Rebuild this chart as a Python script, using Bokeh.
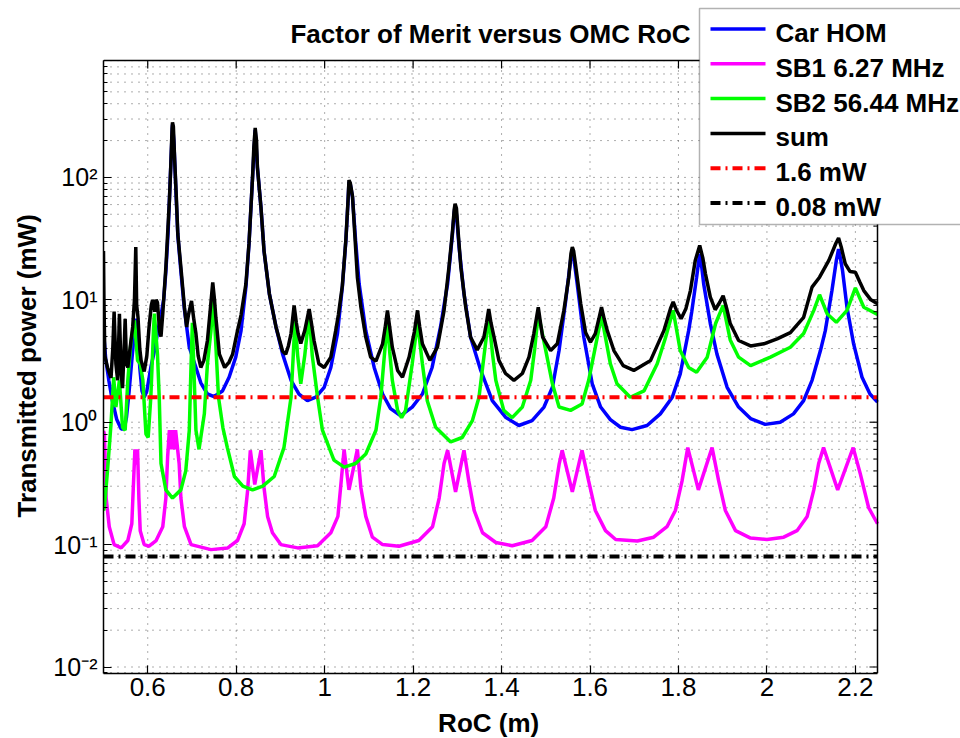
import math
from bokeh.plotting import figure
from bokeh.models import (Range1d, FixedTicker, Label, PolyAnnotation, CustomJSTickFormatter)
from bokeh.embed import file_html
from bokeh.resources import INLINE

TITLE = "Factor of Merit versus OMC RoC"
X_LABEL = "RoC (m)"
Y_LABEL = "Transmitted power (mW)"
LEGEND_LABELS = ["Car HOM", "SB1 6.27 MHz", "SB2 56.44 MHz", "sum", "1.6 mW", "0.08 mW"]
LEGEND_COLORS = ["#0000ff", "#ff00ff", "#00ff00", "black", "#ff0000", "black"]
LEGEND_DASHED = [False, False, False, False, True, True]

X_TICKS = [0.6, 0.8, 1.0, 1.2, 1.4, 1.6, 1.8, 2.0, 2.2]
X_TICK_LABELS = ["0.6", "0.8", "1", "1.2", "1.4", "1.6", "1.8", "2", "2.2"]
Y_TICKS = [0.01, 0.1, 1, 10, 100]
Y_TICK_LABELS = ["10\u207b\u00b2", "10\u207b\u00b9", "10\u2070", "10\u00b9", "10\u00b2"]

X_RANGE = (0.5, 2.25)
Y_RANGE = (0.00885, 902)

THRESH_HIGH = 1.6
THRESH_LOW = 0.08
THRESH_X = [0.5, 2.25]

# (RoC, power mW)
CAR_HOM = [
    (0.500, 5.5), (0.505, 3.3), (0.512, 2.2), (0.520, 1.5), (0.530, 1.05), (0.540, 0.88),
    (0.547, 0.88), (0.552, 1.1), (0.558, 1.8), (0.564, 3.2), (0.570, 5.5), (0.574, 7),
    (0.578, 5), (0.582, 2.8), (0.587, 1.8), (0.592, 1.6), (0.598, 1.8), (0.607, 2.8),
    (0.615, 3.8), (0.622, 5.3), (0.630, 7.5), (0.636, 10), (0.641, 17), (0.646, 35),
    (0.650, 80), (0.653, 150), (0.656, 270), (0.659, 200), (0.662, 110), (0.665, 60),
    (0.668, 34), (0.675, 17), (0.683, 8.3), (0.694, 4.1), (0.709, 2.8), (0.720, 2.1),
    (0.735, 1.7), (0.750, 1.62), (0.769, 1.8), (0.784, 2.33), (0.799, 3.4), (0.811, 5.6),
    (0.822, 12.7), (0.829, 28.6), (0.837, 100), (0.843, 245), (0.848, 121), (0.856, 57),
    (0.863, 25), (0.875, 11.2), (0.890, 6), (0.905, 3.6), (0.924, 2.2), (0.942, 1.7),
    (0.961, 1.5), (0.980, 1.6), (0.999, 1.93), (1.014, 2.8), (1.029, 5.3), (1.040, 12.7),
    (1.048, 30.4), (1.053, 65), (1.055, 92), (1.058, 88), (1.063, 69), (1.070, 30.4),
    (1.078, 13.5), (1.093, 5.6), (1.112, 2.8), (1.131, 1.7), (1.149, 1.29), (1.172, 1.13),
    (1.198, 1.33), (1.221, 1.7), (1.243, 2.8), (1.262, 6), (1.278, 13.5), (1.289, 34.5),
    (1.293, 52), (1.295, 58), (1.298, 50), (1.304, 26.8), (1.315, 11.2), (1.330, 4.95),
    (1.353, 2.65), (1.379, 1.5), (1.409, 1.1), (1.439, 0.94), (1.469, 1.03), (1.496, 1.33),
    (1.515, 1.93), (1.530, 3.85), (1.545, 9.8), (1.556, 21), (1.560, 25), (1.564, 21),
    (1.571, 13.5), (1.586, 4.95), (1.605, 2.06), (1.624, 1.33), (1.646, 1.05), (1.669, 0.91),
    (1.695, 0.87), (1.729, 0.94), (1.759, 1.17), (1.786, 1.6), (1.804, 2.48), (1.823, 5.6),
    (1.830, 8), (1.841, 15.3), (1.848, 23.8), (1.853, 18), (1.857, 13.5), (1.872, 6.4),
    (1.887, 3.6), (1.910, 1.93), (1.936, 1.33), (1.963, 1.07), (1.996, 0.96), (2.030, 1.0),
    (2.060, 1.17), (2.083, 1.5), (2.102, 2.2), (2.121, 3.85), (2.132, 5.6), (2.147, 11.9),
    (2.157, 21), (2.162, 26), (2.167, 21), (2.171, 17.3), (2.181, 8.7), (2.196, 4.37),
    (2.215, 2.33), (2.233, 1.7), (2.250, 1.46),
]

SB1 = [
    (0.500, 0.85), (0.502, 0.8), (0.506, 0.24), (0.513, 0.14), (0.524, 0.10), (0.540, 0.094),
    (0.555, 0.108), (0.564, 0.148), (0.568, 0.33), (0.571, 0.6), (0.574, 0.45), (0.577, 0.6),
    (0.580, 0.24), (0.583, 0.13), (0.592, 0.10), (0.603, 0.097), (0.619, 0.108), (0.634, 0.14),
    (0.641, 0.24), (0.645, 0.52), (0.649, 0.86), (0.654, 0.6), (0.657, 0.86), (0.660, 0.6),
    (0.663, 0.86), (0.671, 0.46), (0.675, 0.24), (0.683, 0.14), (0.698, 0.10), (0.743, 0.091),
    (0.781, 0.094), (0.803, 0.108), (0.818, 0.148), (0.826, 0.28), (0.832, 0.59), (0.842, 0.31),
    (0.856, 0.59), (0.863, 0.29), (0.871, 0.17), (0.882, 0.125), (0.901, 0.10), (0.939, 0.094),
    (0.984, 0.098), (1.014, 0.125), (1.030, 0.17), (1.036, 0.29), (1.044, 0.6), (1.055, 0.28),
    (1.074, 0.6), (1.082, 0.29), (1.093, 0.17), (1.108, 0.115), (1.131, 0.10), (1.168, 0.097),
    (1.213, 0.108), (1.244, 0.14), (1.259, 0.24), (1.270, 0.46), (1.278, 0.59), (1.296, 0.27),
    (1.315, 0.59), (1.326, 0.33), (1.338, 0.19), (1.357, 0.125), (1.387, 0.104), (1.424, 0.098),
    (1.469, 0.108), (1.500, 0.14), (1.518, 0.24), (1.530, 0.45), (1.537, 0.59), (1.560, 0.27),
    (1.582, 0.59), (1.597, 0.33), (1.612, 0.19), (1.635, 0.13), (1.658, 0.11), (1.707, 0.107),
    (1.744, 0.115), (1.774, 0.14), (1.793, 0.19), (1.808, 0.33), (1.821, 0.62), (1.845, 0.28),
    (1.876, 0.62), (1.891, 0.33), (1.906, 0.19), (1.929, 0.13), (1.963, 0.113), (2.000, 0.11),
    (2.038, 0.115), (2.068, 0.13), (2.091, 0.17), (2.106, 0.28), (2.117, 0.46), (2.128, 0.62),
    (2.160, 0.28), (2.195, 0.62), (2.211, 0.38), (2.230, 0.2), (2.250, 0.148),
]

SB2 = [
    (0.500, 0.19), (0.502, 0.2), (0.509, 0.4), (0.517, 0.97), (0.523, 2.33), (0.528, 1.33),
    (0.536, 2.2), (0.543, 0.91), (0.549, 0.86), (0.555, 2.2), (0.562, 4.5), (0.566, 5.6),
    (0.570, 6.8), (0.577, 3.2), (0.583, 3.0), (0.589, 2.2), (0.596, 0.8), (0.601, 0.75),
    (0.607, 1.6), (0.613, 5.6), (0.615, 7.7), (0.622, 3.6), (0.626, 1.6), (0.630, 0.46),
    (0.641, 0.28), (0.656, 0.24), (0.675, 0.28), (0.686, 0.4), (0.694, 0.86), (0.698, 3),
    (0.701, 6.5), (0.704, 3), (0.709, 0.86), (0.716, 0.6), (0.728, 1.17), (0.735, 3),
    (0.743, 5.6), (0.748, 11), (0.753, 5), (0.760, 1.6), (0.770, 0.9), (0.780, 0.62),
    (0.796, 0.36), (0.815, 0.3), (0.837, 0.28), (0.860, 0.3), (0.886, 0.36), (0.908, 0.62),
    (0.924, 1.6), (0.929, 3.5), (0.933, 6.8), (0.939, 3.5), (0.946, 2.06), (0.955, 3.5),
    (0.965, 7.7), (0.972, 3.5), (0.984, 1.6), (0.995, 0.86), (1.021, 0.49), (1.044, 0.43),
    (1.070, 0.46), (1.093, 0.55), (1.116, 0.86), (1.127, 1.6), (1.135, 3.5), (1.142, 6.8),
    (1.147, 3.8), (1.153, 2.2), (1.165, 1.25), (1.174, 1.09), (1.183, 1.25), (1.198, 3),
    (1.210, 6.6), (1.221, 3), (1.232, 1.5), (1.251, 0.91), (1.285, 0.69), (1.311, 0.75),
    (1.334, 1.03), (1.349, 1.6), (1.360, 3.4), (1.371, 7.2), (1.380, 3.5), (1.387, 2.2),
    (1.405, 1.25), (1.424, 1.09), (1.447, 1.33), (1.466, 2.2), (1.475, 4), (1.483, 7.7),
    (1.500, 3.85), (1.515, 2.06), (1.530, 1.33), (1.556, 1.25), (1.582, 1.41), (1.597, 2.2),
    (1.612, 4.1), (1.626, 7.4), (1.646, 3), (1.661, 2.06), (1.691, 1.6), (1.722, 1.8),
    (1.752, 3), (1.771, 4.95), (1.788, 8.2), (1.804, 3.85), (1.823, 2.8), (1.841, 2.56),
    (1.865, 3.4), (1.884, 6.4), (1.901, 9), (1.917, 4.7), (1.936, 3.4), (1.963, 2.9),
    (2.008, 3.4), (2.053, 4.1), (2.083, 5.3), (2.106, 8.2), (2.119, 11), (2.136, 7.7),
    (2.157, 6.55), (2.181, 8.2), (2.200, 12.5), (2.219, 8.7), (2.250, 7.6),
]

SUM = [
    (0.500, 25), (0.501, 10), (0.503, 3.5), (0.509, 2.8), (0.517, 2.3), (0.521, 4),
    (0.524, 8), (0.528, 3), (0.532, 2.2), (0.536, 7.7), (0.540, 2.5), (0.543, 1.9),
    (0.546, 3.5), (0.549, 7), (0.552, 3), (0.555, 2.8), (0.560, 4), (0.566, 6),
    (0.570, 10), (0.573, 27), (0.575, 9), (0.578, 7.2), (0.582, 4), (0.585, 3.2),
    (0.592, 2.6), (0.598, 3.5), (0.603, 6), (0.608, 9), (0.611, 10), (0.616, 8),
    (0.619, 10), (0.622, 9.5), (0.627, 5.5), (0.630, 5), (0.634, 7.7), (0.641, 18.4),
    (0.649, 65), (0.652, 121), (0.655, 250), (0.656, 282), (0.658, 260), (0.661, 137),
    (0.665, 65), (0.668, 34.5), (0.675, 18.4), (0.683, 8.7), (0.688, 6), (0.692, 7.5),
    (0.699, 9.8), (0.704, 7), (0.709, 5.3), (0.714, 3.5), (0.720, 2.8), (0.727, 3.2),
    (0.735, 4.65), (0.741, 8), (0.747, 13.9), (0.751, 10), (0.754, 7.2), (0.762, 3.6),
    (0.774, 2.8), (0.784, 3.1), (0.792, 3.6), (0.803, 5.6), (0.811, 7.5), (0.822, 13.5),
    (0.829, 29), (0.837, 100), (0.840, 180), (0.843, 254), (0.846, 200), (0.848, 121),
    (0.856, 57), (0.863, 25), (0.875, 11.2), (0.890, 6), (0.905, 3.8), (0.912, 3.6),
    (0.918, 4.2), (0.924, 5.3), (0.931, 9), (0.936, 6.5), (0.940, 5.3), (0.946, 4.4),
    (0.955, 5.6), (0.965, 8.4), (0.970, 6.5), (0.976, 4.65), (0.987, 3.0), (0.999, 2.8),
    (1.014, 3.4), (1.025, 5.6), (1.031, 7.5), (1.040, 13), (1.048, 31), (1.053, 66),
    (1.055, 95), (1.058, 90), (1.063, 70), (1.068, 35), (1.074, 15.3), (1.082, 8.7),
    (1.093, 4.95), (1.104, 3.4), (1.116, 3.15), (1.131, 4.37), (1.137, 6), (1.142, 8.2),
    (1.147, 6), (1.153, 4.1), (1.165, 2.65), (1.176, 2.33), (1.191, 3.4), (1.203, 5.5),
    (1.210, 8.2), (1.215, 6), (1.221, 4.37), (1.238, 3.2), (1.255, 4.1), (1.270, 8.2),
    (1.281, 18.4), (1.289, 36), (1.293, 55), (1.295, 61), (1.298, 56), (1.302, 35),
    (1.308, 18.4), (1.319, 8.7), (1.330, 4.95), (1.345, 3.9), (1.360, 4.95), (1.366, 6.5),
    (1.371, 8.4), (1.376, 6.5), (1.383, 4.95), (1.394, 3.2), (1.409, 2.5), (1.428, 2.2),
    (1.447, 2.5), (1.462, 3.4), (1.473, 5.3), (1.483, 8.7), (1.488, 6.5), (1.493, 4.95),
    (1.511, 3.85), (1.526, 4.37), (1.541, 8.2), (1.552, 15.3), (1.557, 24), (1.560, 27),
    (1.563, 25), (1.567, 19.7), (1.579, 9.3), (1.590, 5.4), (1.601, 4.5), (1.612, 5.3),
    (1.620, 7), (1.626, 8.7), (1.632, 7), (1.639, 5.6), (1.654, 3.85), (1.675, 2.9),
    (1.699, 2.65), (1.737, 3.2), (1.767, 5.6), (1.782, 8.5), (1.788, 9.6), (1.795, 8.3),
    (1.806, 7), (1.817, 8.5), (1.827, 11.9), (1.838, 21), (1.848, 27.8), (1.855, 22),
    (1.861, 16.3), (1.872, 10.5), (1.883, 8.3), (1.893, 9.5), (1.901, 10.8), (1.909, 8.5),
    (1.917, 6.4), (1.936, 4.65), (1.963, 4.2), (1.993, 4.37), (2.023, 4.8), (2.053, 5.4),
    (2.083, 7.2), (2.102, 12.7), (2.119, 15.3), (2.140, 21), (2.156, 29), (2.162, 32),
    (2.168, 27), (2.177, 19.7), (2.188, 17), (2.200, 16.8), (2.210, 14), (2.219, 11.9),
    (2.235, 10), (2.250, 9.3),
]


def unzip(pts):
    return [a for a, _ in pts], [b for _, b in pts]


FONT = "Liberation Sans"
NBSP = "\u00a0"

# ---- geometry (canvas pixels) ----
FIG_W, FIG_H = 960, 738
B_LEFT, B_BOTTOM = 103, 65
PLOT_TOP = 60                 # top edge of the axes box
PLOT_RIGHT = 877              # right edge of the axes box
FRAME_W = FIG_W - B_LEFT      # frame reaches the canvas top/right so the legend can overhang the box
FRAME_H = FIG_H - B_BOTTOM
PLOT_W = PLOT_RIGHT - B_LEFT
PLOT_H = FRAME_H - PLOT_TOP

x_span = X_RANGE[1] - X_RANGE[0]
frame_x_end = X_RANGE[1] + (FRAME_W - PLOT_W) * x_span / PLOT_W
dec = math.log10(Y_RANGE[1] / Y_RANGE[0])
frame_y_top = Y_RANGE[1] * 10 ** ((FRAME_H - PLOT_H) * dec / PLOT_H)

p = figure(frame_width=FRAME_W, frame_height=FRAME_H,
           x_range=Range1d(X_RANGE[0], frame_x_end), y_range=Range1d(Y_RANGE[0], frame_y_top),
           y_axis_type="log", output_backend="svg", toolbar_location=None,
           min_border_left=B_LEFT, min_border_right=0,
           min_border_top=0, min_border_bottom=B_BOTTOM)
p.outline_line_color = None
p.background_fill_color = "white"
p.border_fill_color = "white"
p.xgrid.visible = False
p.ygrid.visible = False

Y_MINOR = [m * 10.0 ** e for e in range(-3, 3) for m in range(2, 10)
           if Y_RANGE[0] < m * 10.0 ** e < Y_RANGE[1]]

xt = FixedTicker(ticks=X_TICKS, minor_ticks=[])
yt = FixedTicker(ticks=Y_TICKS, minor_ticks=Y_MINOR)

xfmt = CustomJSTickFormatter(args=dict(tv=X_TICKS, tl=X_TICK_LABELS), code="""
let b = 0, d = Infinity;
for (let i = 0; i < tv.length; i++) { const e = Math.abs(tv[i] - tick); if (e < d) { d = e; b = i; } }
return tl[b];
""")
yfmt = CustomJSTickFormatter(args=dict(tv=Y_TICKS, tl=Y_TICK_LABELS), code="""
let b = 0, d = Infinity;
for (let i = 0; i < tv.length; i++) { const e = Math.abs(Math.log(tv[i]) - Math.log(tick)); if (e < d) { d = e; b = i; } }
return tl[b];
""")

bx = p.below[0]
ly = p.left[0]
bx.ticker = xt
ly.ticker = yt
bx.formatter = xfmt
ly.formatter = yfmt
bx.bounds = X_RANGE
ly.bounds = Y_RANGE

for ax in (bx, ly):
    ax.axis_line_color = "black"
    ax.axis_line_width = 1.5
    ax.major_tick_in = 8
    ax.major_tick_out = 0
    ax.minor_tick_in = 4
    ax.minor_tick_out = 0
    ax.major_tick_line_color = "black"
    ax.major_tick_line_width = 1.2
    ax.minor_tick_line_color = "black"
    ax.major_label_text_font = FONT
    ax.major_label_text_color = "black"
    ax.axis_label_text_font = FONT
    ax.axis_label_text_font_style = "bold"
    ax.axis_label_text_color = "black"
    ax.axis_label_text_font_size = "26px"

# the axis labels are centred on the whole frame; trailing no-break spaces move them
# back over the centre of the axes box
bx.axis_label = X_LABEL + NBSP * 12
ly.axis_label = Y_LABEL + NBSP * 8
bx.major_label_text_font_size = "26px"
bx.major_label_standoff = 4
bx.axis_label_standoff = 9
ly.major_label_text_font_size = "25px"
ly.major_label_standoff = 6
ly.axis_label_standoff = 8

# ---- dotted grid inside the axes box ----
GRID = dict(line_color="#333333", line_alpha=0.8, line_dash="1 6", line_width=1)
p.multi_line(xs=[[t, t] for t in X_TICKS], ys=[list(Y_RANGE) for _ in X_TICKS], **GRID)
ygrid_vals = sorted(Y_TICKS + Y_MINOR)
p.multi_line(xs=[list(X_RANGE) for _ in ygrid_vals], ys=[[v, v] for v in ygrid_vals], **GRID)

# ---- data ----
cx, cy = unzip(CAR_HOM)
s1x, s1y = unzip(SB1)
s2x, s2y = unzip(SB2)
sx, sy = unzip(SUM)

LW = 3.5
DASH = "10 5 2 5"
p.line(cx, cy, line_color=LEGEND_COLORS[0], line_width=LW)
p.line(s1x, s1y, line_color=LEGEND_COLORS[1], line_width=LW)
p.line(s2x, s2y, line_color=LEGEND_COLORS[2], line_width=LW)
p.line(sx, sy, line_color=LEGEND_COLORS[3], line_width=LW)
p.line(THRESH_X, [THRESH_HIGH] * len(THRESH_X), line_color=LEGEND_COLORS[4],
       line_width=4, line_dash=DASH)
p.line(THRESH_X, [THRESH_LOW] * len(THRESH_X), line_color=LEGEND_COLORS[5],
       line_width=4, line_dash=DASH)

# ---- top and right edges of the axes box, with inward ticks ----
p.segment(x0=[X_RANGE[0], X_RANGE[1]], y0=[Y_RANGE[1], Y_RANGE[0]],
          x1=[X_RANGE[1], X_RANGE[1]], y1=[Y_RANGE[1], Y_RANGE[1]],
          line_color="black", line_width=1.5)
p.ray(x=X_TICKS, y=[Y_RANGE[1]] * len(X_TICKS), length=8, length_units="screen",
      angle=-math.pi / 2, line_color="black", line_width=1.2)
p.ray(x=[X_RANGE[1]] * len(Y_TICKS), y=Y_TICKS, length=8, length_units="screen",
      angle=math.pi, line_color="black", line_width=1.2)
p.ray(x=[X_RANGE[1]] * len(Y_MINOR), y=Y_MINOR, length=4, length_units="screen",
      angle=math.pi, line_color="black", line_width=1)


# ---- title and legend (frame screen units: x from frame left, y up from frame bottom) ----
def fx(cxp):
    return cxp - B_LEFT


def fy(cyp):
    return FRAME_H - cyp


p.add_layout(Label(x=fx((B_LEFT + PLOT_RIGHT) / 2), y=fy(33), x_units="screen", y_units="screen",
                   text=TITLE, text_font=FONT, text_font_size="26px", text_font_style="bold",
                   text_color="black", text_align="center", text_baseline="middle"))


def rect(x0, x1, y0, y1, fill, line=None, lw=1.0):
    p.add_layout(PolyAnnotation(xs=[fx(x0), fx(x1), fx(x1), fx(x0)],
                                ys=[fy(y0), fy(y0), fy(y1), fy(y1)],
                                xs_units="screen", ys_units="screen",
                                fill_color=fill, fill_alpha=1.0,
                                line_color=line, line_width=lw))


LEG_L, LEG_R, LEG_T, LEG_B = 699, 985, 8, 224
rect(LEG_L, LEG_R, LEG_T, LEG_B, "white", "black", 1.5)

LINE_ROW0, TEXT_ROW0, ROW_STEP = 28.5, 32.5, 34.8
SAMPLE_X0, SAMPLE_X1 = 710, 765
TEXT_X = 775
for i, (lab, col, dashed) in enumerate(zip(LEGEND_LABELS, LEGEND_COLORS, LEGEND_DASHED)):
    yc = LINE_ROW0 + i * ROW_STEP
    if dashed:
        pieces = [(0, 10), (15, 17), (22, 32), (37, 39), (44, 55)]
        h = 4
    else:
        pieces = [(0, SAMPLE_X1 - SAMPLE_X0)]
        h = 3.5
    for a, b in pieces:
        rect(SAMPLE_X0 + a, SAMPLE_X0 + b, yc - h / 2, yc + h / 2, col)
    p.add_layout(Label(x=fx(TEXT_X), y=fy(TEXT_ROW0 + i * ROW_STEP), x_units="screen", y_units="screen",
                       text=lab, text_font=FONT, text_font_size="26px",
                       text_font_style="bold", text_color="black",
                       text_baseline="middle", text_align="left"))

open("out.html", "w").write(file_html(p, INLINE))
